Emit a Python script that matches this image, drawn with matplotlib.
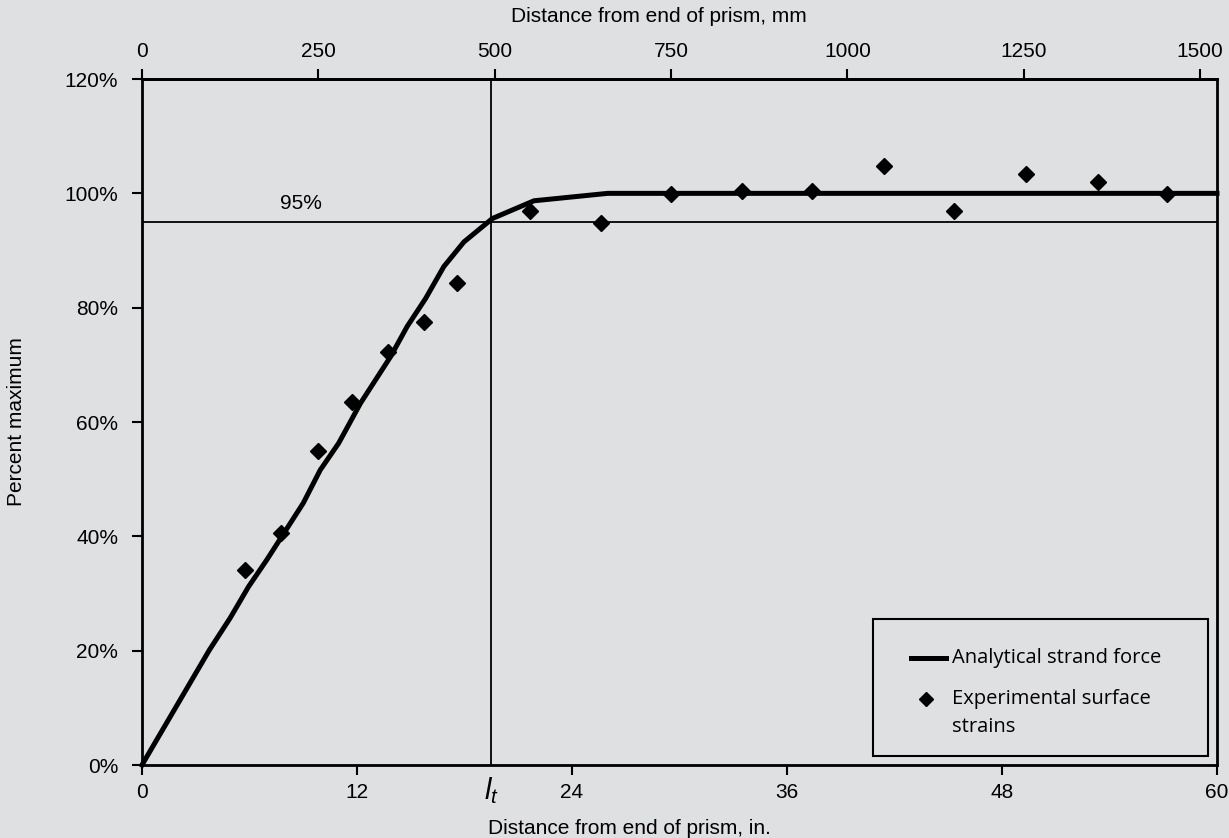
import numpy as np
import matplotlib
matplotlib.use("Agg")
import matplotlib.pyplot as plt
from matplotlib.patches import Rectangle
from matplotlib.lines import Line2D

plt.rcParams['font.family'] = ['Liberation Sans', 'DejaVu Sans']
plt.rcParams['mathtext.fontset'] = 'custom'
plt.rcParams['mathtext.it'] = 'Liberation Sans:italic'
plt.rcParams['mathtext.rm'] = 'Liberation Sans'

# analytical strand force (in., % of max)
line_x = [0, 3.76, 4.92, 5.95, 6.97, 9.0, 9.95, 10.98, 12.2, 13.87, 14.8, 15.83,
          16.85, 17.97, 19.56, 21.88, 26.0, 60]
line_y = [0, 20.1, 25.7, 31.2, 35.9, 45.8, 51.6, 56.3, 63.3, 71.4, 76.7, 81.6,
          87.2, 91.5, 95.6, 98.7, 100.0, 100.0]

# experimental surface strains
pts_x = [5.75, 7.75, 9.85, 11.75, 13.75, 15.75, 17.6, 21.65, 25.6, 29.55, 33.5,
         37.4, 41.4, 45.35, 49.35, 53.35, 57.2]
pts_y = [34.2, 40.6, 54.9, 63.5, 72.3, 77.5, 84.4, 97.0, 94.9, 99.8, 100.4,
         100.4, 104.7, 96.9, 103.4, 102.0, 99.8]

lt = 19.5
in_ticks = [0, 12, 24, 36, 48, 60]
mm_ticks = [0, 250, 500, 750, 1000, 1250, 1500]
y_ticks = [0, 20, 40, 60, 80, 100, 120]

bg = '#dfe0e2'
fs = 15

fig = plt.figure(figsize=(12.29, 8.38), dpi=100, facecolor=bg)
ax = fig.add_axes([0.1155, 0.0871, 0.8747, 0.8186], facecolor=bg)

ax.plot(line_x, line_y, color='black', lw=3.6, solid_joinstyle='miter', zorder=3, clip_on=False)
ax.plot(pts_x, pts_y, 'D', color='black', ms=8.5, zorder=4)

ax.axvline(lt, color='black', lw=1.3, zorder=2)
ax.axhline(95, color='black', lw=1.3, zorder=2)
ax.text(8.9, 96.6, '95%', fontsize=fs, ha='center', va='bottom')

ax.set_xlim(0, 60)
ax.set_ylim(0, 120)
ax.set_xticks(in_ticks)
ax.set_yticks(y_ticks)
ax.set_yticklabels([f'{v}%' for v in y_ticks])
ax.tick_params(direction='out', length=7, width=1.5, labelsize=fs, pad=6)
ax.tick_params(axis='y', pad=10)
for s in ax.spines.values():
    s.set_linewidth(2)

ax.text(lt, -1.8, r'$l_t$', fontsize=21, ha='center', va='top')

top = ax.secondary_xaxis('top', functions=(lambda x: x * 25.4, lambda m: m / 25.4))
top.set_xticks(mm_ticks)
top.tick_params(direction='out', length=7, width=1.5, labelsize=fs, pad=6)
top.spines['top'].set_linewidth(2)

fig.text(659 / 1229, 1 - 17 / 838, 'Distance from end of prism, mm', fontsize=fs,
         ha='center', va='center')
fig.text(629 / 1229, 1 - 828 / 838, 'Distance from end of prism, in.', fontsize=fs,
         ha='center', va='center')
fig.text(17 / 1229, 1 - 422 / 838, 'Percent maximum', fontsize=fs, rotation=90,
         ha='center', va='center')

# legend box (drawn by hand so the marker sits on the first text line)
ax.add_patch(Rectangle((0.68, 0.013), 0.3116, 0.20, transform=ax.transAxes,
                       facecolor=bg, edgecolor='black', lw=1.5, zorder=5))
ax.add_line(Line2D([0.7153, 0.748], [0.156, 0.156], color='black', lw=3.6,
                   transform=ax.transAxes, zorder=6))
ax.add_line(Line2D([0.729], [0.0962], color='black', marker='D', ms=7, ls='none',
                   transform=ax.transAxes, zorder=6))
leg_font = {'family': 'Open Sans', 'size': 14.5}
ax.text(0.7535, 0.156, 'Analytical strand force', transform=ax.transAxes,
        va='center', ha='left', fontdict=leg_font, zorder=6)
ax.text(0.7535, 0.0962, 'Experimental surface', transform=ax.transAxes,
        va='center', ha='left', fontdict=leg_font, zorder=6)
ax.text(0.7535, 0.0554, 'strains', transform=ax.transAxes,
        va='center', ha='left', fontdict=leg_font, zorder=6)

fig.savefig('out.png', dpi=100, facecolor=bg)
